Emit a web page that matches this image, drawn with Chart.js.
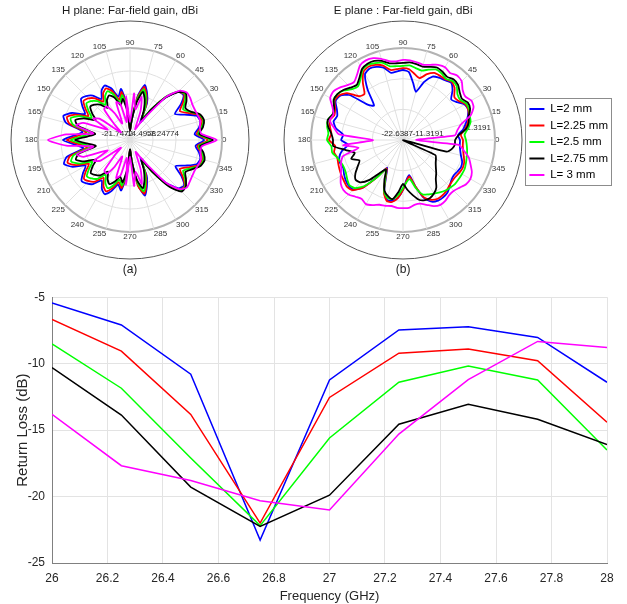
<!DOCTYPE html>
<html>
<head>
<meta charset="utf-8">
<script src="https://cdn.jsdelivr.net/npm/chart.js@4.4.0/dist/chart.umd.min.js"></script>
<style>
  html, body { margin: 0; padding: 0; background: #fff; }
  #wrap { position: relative; width: 627px; height: 604px; overflow: hidden; }
  .box { position: absolute; }
  canvas { display: block; }
</style>
</head>
<body>
<div id="wrap">
  <div class="box" style="left:0;top:0;width:260px;height:284px"><canvas id="hPlane"></canvas></div>
  <div class="box" style="left:262px;top:0;width:365px;height:284px"><canvas id="ePlane"></canvas></div>
  <div class="box" style="left:0;top:283px;width:627px;height:321px"><canvas id="returnLoss"></canvas></div>
</div>
<script>
// series names shared by all three plots
const seriesNames = ["L=2 mm", "L=2.25 mm", "L=2.5 mm", "L=2.75 mm", "L= 3 mm"];
const seriesColors = ["#0000ff", "#ff0000", "#00ff00", "#000000", "#ff00ff"];

// pattern angles (deg), 0..355 every 5
const angles = [0, 5, 10, 15, 20, 25, 30, 35, 40, 45, 50, 55, 60, 65, 70, 75, 80, 85,
  90, 95, 100, 105, 110, 115, 120, 125, 130, 135, 140, 145, 150, 155, 160, 165, 170, 175,
  180, 185, 190, 195, 200, 205, 210, 215, 220, 225, 230, 235, 240, 245, 250, 255, 260, 265,
  270, 275, 280, 285, 290, 295, 300, 305, 310, 315, 320, 325, 330, 335, 340, 345, 350, 355];

// H plane gain (dBi)
const hBlue = [1.6, -1.3, 0.3, 1.2, 0.6, -2.8, -5.4, -2.2, 0.3, -0.3, -4.4, -10.7, -15.4, -9.1, -6.0, -3.8, -7.6, -15.4,
  -18.6, -10.7, -5.4, -7.6, -4.4, -2.8, -3.8, -6.0, -3.5, -2.2, -1.6, -3.5, -5.4, -1.6, 0.6, -0.9, -6.6, -4.4,
  -0.6, -4.6, -6.8, -1.1, 0.4, -1.8, -5.6, -3.7, -1.8, -2.4, -3.6, -6.2, -4.0, -2.9, -4.6, -7.2, -5.6, -11.0,
  -18.4, -15.0, -7.4, -3.6, -6.2, -9.3, -15.2, -10.5, -4.2, -0.2, 0.5, -2.0, -5.2, -2.6, 0.6, 1.2, 0.3, -1.0];
const hRed = [2.8, -0.6, 0.8, 1.8, 1.2, -1.6, -3.6, -1.4, 0.6, -0.3, -4.0, -10.0, -14.6, -9.8, -6.6, -4.4, -8.2, -15.0,
  -18.6, -11.4, -6.4, -8.6, -5.4, -3.8, -4.8, -7.0, -4.6, -3.2, -2.6, -4.6, -6.6, -2.8, -0.6, -2.0, -7.8, -5.6,
  -1.8, -5.8, -8.0, -2.2, -0.8, -3.0, -6.8, -4.8, -2.8, -3.4, -4.6, -7.2, -5.0, -3.9, -5.6, -8.0, -6.4, -11.6,
  -18.6, -14.6, -7.0, -4.2, -6.8, -10.0, -14.6, -9.8, -3.6, 0.4, 0.8, -1.4, -3.6, -1.4, 1.4, 1.8, 1.0, -0.4];
const hGreen = [3.6, -0.2, 1.2, 2.2, 1.6, -0.8, -2.4, -0.6, 0.9, -0.2, -3.6, -9.6, -14.0, -10.4, -7.2, -5.2, -8.8, -14.6,
  -18.2, -12.0, -7.4, -9.4, -6.4, -4.8, -6.0, -8.2, -5.8, -4.4, -3.8, -5.8, -7.8, -4.0, -1.8, -3.2, -9.0, -7.0,
  -3.0, -7.0, -9.2, -3.4, -2.0, -4.2, -8.0, -6.0, -4.0, -4.6, -5.8, -8.4, -6.2, -5.0, -6.6, -8.8, -7.2, -12.2,
  -18.2, -14.2, -8.0, -5.0, -7.4, -10.6, -14.0, -9.4, -3.0, 0.8, 1.0, -0.6, -2.4, -0.6, 1.8, 2.2, 1.4, 0.0];
const hBlack = [4.4, 0.2, 1.6, 2.4, 1.8, -0.6, -1.6, 0.0, 1.2, -0.4, -4.2, -10.0, -14.4, -11.4, -8.2, -6.0, -9.6, -15.2,
  -18.6, -12.8, -8.6, -10.4, -7.6, -6.2, -7.2, -9.4, -7.2, -6.0, -5.4, -7.2, -9.2, -5.6, -3.4, -4.8, -10.6, -8.4,
  -4.4, -8.4, -10.8, -5.0, -3.6, -5.8, -9.4, -7.4, -5.6, -6.2, -7.2, -9.6, -7.6, -6.4, -7.8, -9.8, -8.2, -12.8,
  -18.8, -14.6, -8.8, -6.0, -8.4, -11.4, -14.4, -9.6, -2.6, 1.2, 1.2, -0.2, -1.6, 0.0, 2.0, 2.6, 1.8, 0.4];
const hMagenta = [5.6, 0.8, 0.6, 1.2, 1.0, 0.8, 0.9, 1.4, 1.6, 0.2, -4.0, -12.0, -16.0, -18.0, -12.0, -7.6, -12.0, -7.0,
  -16.0, -7.8, -16.0, -10.0, -9.1, -16.0, -12.0, -8.8, -9.1, -15.0, -18.0, -10.0, -8.4, -14.0, -6.0, -4.2, -10.0, -1.6,
  4.1, -1.6, -10.0, -4.4, -6.2, -14.0, -8.6, -10.4, -18.0, -15.0, -9.2, -8.8, -12.0, -16.0, -9.0, -10.2, -16.0, -7.6,
  -16.4, -7.2, -11.6, -7.4, -12.0, -17.6, -16.0, -12.0, -4.2, 0.2, 1.6, 1.2, 0.9, 0.8, 1.2, 1.4, 0.8, 1.0];

// E plane gain (dBi)
const eBlue = [-1.6, -2.3, -0.1, 1.4, 2.8, 3.9, 3.6, 1.7, 0.6, 3.2, 5.0, 4.3, 3.9, 3.2, 0.2, -4.2, -1.2, 2.5,
  3.2, 2.8, 2.5, 5.0, 6.1, 6.5, 5.4, 0.2, -6.0, -4.2, 3.2, 5.8, 6.1, 4.3, 3.2, 3.9, 2.5, -0.5,
  0.2, -2.3, 0.2, 1.7, 2.1, 1.7, 2.5, 3.2, 3.6, 3.2, 0.2, -6.0, -10.8, -7.9, -2.3, 0.2, 0.2, -1.2,
  -4.2, -7.9, -9.4, -4.9, 0.2, 2.5, 3.2, 3.2, 2.8, 1.7, 0.6, 0.2, 0.6, 1.0, 0.6, -0.5, -1.2, -1.6];
const eRed = [-0.5, -1.2, 0.6, 2.1, 3.2, 3.9, 3.9, 2.5, 2.1, 4.3, 5.4, 4.7, 4.7, 4.7, 3.2, 1.0, 2.1, 3.6,
  3.9, 3.6, 3.6, 5.8, 6.9, 7.3, 6.5, 3.2, -0.5, 0.2, 4.3, 6.1, 6.5, 5.0, 4.3, 5.4, 4.7, 3.9,
  4.7, 2.5, 3.2, 2.5, 2.8, 3.2, 3.6, 3.9, 4.3, 3.6, 0.2, -5.7, -10.5, -7.5, -2.0, 0.6, 0.6, -1.2,
  -4.2, -7.5, -9.0, -4.9, -0.1, 1.7, 2.5, 2.5, 2.1, 1.4, 1.0, 1.0, 1.4, 1.7, 1.4, 0.6, -0.1, -0.5];
const eGreen = [0.6, 0.2, 1.7, 3.2, 3.6, 4.3, 4.3, 3.2, 3.6, 5.4, 5.8, 5.0, 5.8, 6.1, 5.0, 3.9, 4.3, 5.0,
  4.7, 4.7, 5.0, 6.9, 7.6, 8.0, 7.3, 4.7, 3.2, 3.9, 5.8, 6.9, 6.9, 5.4, 5.0, 6.1, 5.8, 5.0,
  5.4, 3.9, 3.9, 2.5, 1.7, 1.4, 1.7, 2.5, 3.2, 2.5, -0.5, -5.7, -10.1, -7.1, -2.3, -0.5, -0.5, -2.3,
  -4.9, -7.1, -7.9, -4.2, -1.2, -0.5, 0.2, 1.0, 1.7, 2.1, 2.5, 2.5, 2.5, 2.5, 2.1, 1.7, 1.4, 1.0];
const eBlack = [-3.4, -2.0, 1.0, 2.5, 3.2, 4.7, 5.0, 3.9, 4.7, 6.1, 6.5, 5.8, 6.5, 6.9, 6.1, 5.4, 5.8, 6.1,
  5.8, 5.8, 6.1, 7.6, 8.4, 8.4, 7.6, 5.4, 3.9, 4.7, 6.1, 6.9, 6.9, 5.4, 5.0, 6.1, 5.4, 3.9,
  3.2, 3.2, -1.2, -4.2, -2.3, -4.9, -3.4, -1.2, 0.2, -0.5, -3.4, -7.9, -10.1, -6.4, -2.7, -1.2, -0.5, -3.4,
  -6.4, -4.2, -2.0, 0.2, 1.0, 1.0, 0.2, -1.2, -3.8, -5.3, -6.8, -7.9, -8.6, -9.4, -22.6, -6.0, -4.2, -3.4];
const eMagenta = [-17.8, -3.4, -2.3, -0.5, 3.9, 6.1, 6.5, 5.4, 6.1, 8.0, 8.4, 7.6, 8.4, 8.0, 6.9, 6.1, 6.5, 6.9,
  6.9, 6.5, 6.9, 8.4, 9.5, 9.8, 9.1, 6.9, 5.4, 6.1, 7.6, 8.7, 8.4, 6.1, 4.7, 5.4, 3.2, 1.0,
  -11.6, -0.5, -6.0, 0.2, 1.7, 2.5, 3.9, 5.4, 6.1, 5.8, 4.7, 3.9, 4.7, 3.9, 2.8, 2.5, 2.1, 2.5,
  2.5, 2.5, 1.7, 1.7, 2.8, 4.3, 5.0, 4.7, 3.9, 3.9, 4.7, 5.8, 6.1, 5.4, 3.9, 2.5, 0.2, -2.0];

// radial ticks of the two polar plots
const hRTicks = [-21.7472, -14.4958, -7.24774, 0.0001, 7.2491];
const hRTickLabels = ["-21.7472", "-14.4958", "-7.24774", "", ""];
const eRTicks = [-22.6387, -11.3191, 0.0005, 11.3196];
const eRTickLabels = ["-22.6387", "-11.3191", "", "11.3191"];

// return loss vs frequency
const freqs = [26, 26.25, 26.5, 26.75, 27, 27.25, 27.5, 27.75, 28];
const rlBlue = [-5.44, -7.09, -10.79, -23.28, -11.23, -7.46, -7.22, -8.03, -11.40];
const rlRed = [-6.67, -9.06, -13.82, -22.0, -12.54, -9.21, -8.89, -9.78, -14.41];
const rlGreen = [-8.52, -11.85, -17.1, -22.19, -15.59, -11.40, -10.17, -11.23, -16.5];
const rlBlack = [-10.3, -13.87, -19.29, -22.24, -19.9, -14.56, -13.05, -14.19, -16.08];
const rlMagenta = [-13.82, -17.68, -18.79, -20.32, -21.01, -15.3, -11.2, -8.33, -8.79];
const freqTicks = [26, 26.2, 26.4, 26.6, 26.8, 27, 27.2, 27.4, 27.6, 27.8, 28];
const rlTicks = [-25, -20, -15, -10, -5];

const FONT = '"Liberation Sans", Arial, sans-serif';
Chart.defaults.font.family = FONT;
Chart.defaults.color = "#262626";

// radar goes clockwise from the top, polar plot goes ccw from the right
const order = angles.map((_, j) => (18 - j + 72) % 72);

// radial tick labels along the 0 deg line (under the curves) + outer frame circle
const radialLabels = {
    id: "radialLabels",
    beforeDatasetsDraw(chart, args, opts) {
        if (!opts.values) return;
        const s = chart.scales.r;
        const ctx = chart.ctx;
        ctx.save();
        ctx.font = "8px " + FONT;
        ctx.fillStyle = "#262626";
        ctx.textAlign = "right";
        ctx.textBaseline = "middle";
        opts.values.forEach((v, i) => {
            const text = opts.texts[i];
            if (!text) return;
            const d = s.getDistanceFromCenterForValue(v);
            const last = i === opts.values.length - 1;
            ctx.fillText(text, s.xCenter + d + (last ? -4 : opts.offset), s.yCenter + (last ? -12 : -6));
        });
        ctx.restore();
    },
    afterDraw(chart) {
        const s = chart.scales.r;
        if (!s) return;
        const ctx = chart.ctx;
        ctx.save();
        ctx.beginPath();
        ctx.arc(s.xCenter, s.yCenter, s.drawingArea + 27, 0, Math.PI * 2);
        ctx.strokeStyle = "#555555";
        ctx.lineWidth = 1;
        ctx.stroke();
        ctx.restore();
    }
};

// frame round the legend
const legendFrame = {
    id: "legendFrame",
    afterDraw(chart) {
        const lg = chart.legend;
        if (!lg || !lg.options.display || !lg.legendHitBoxes.length) return;
        const boxes = lg.legendHitBoxes;
        const left = Math.min(...boxes.map(b => b.left)) - 4;
        const top = Math.min(...boxes.map(b => b.top)) - 5;
        const right = Math.max(...boxes.map(b => b.left + b.width)) + 3;
        const bottom = Math.max(...boxes.map(b => b.top + b.height)) + 4;
        const ctx = chart.ctx;
        ctx.save();
        ctx.strokeStyle = "#8c8c8c";
        ctx.lineWidth = 1;
        ctx.strokeRect(Math.round(left) + 0.5, Math.round(top) + 0.5, Math.round(right - left), Math.round(bottom - top));
        ctx.restore();
    }
};

const makePolar = (id, series, rTicks, rTickLabels, titleText, subText, showLegend, pad, labelOffset) => {
    const rMin = rTicks[0];
    const rMax = rTicks[rTicks.length - 1];
    return new Chart(document.getElementById(id), {
        type: "radar",
        data: {
            labels: order.map(i => angles[i]),
            datasets: series.map((s, k) => ({
                label: seriesNames[k],
                data: order.map(i => s[i]),
                borderColor: seriesColors[k],
                backgroundColor: seriesColors[k],
                borderWidth: 1.8,
                pointRadius: 0,
                fill: false,
                tension: 0.2,
                order: series.length - k
            }))
        },
        options: {
            responsive: true,
            maintainAspectRatio: false,
            animation: false,
            layout: { padding: pad },
            plugins: {
                title: {
                    display: true, text: titleText, fullSize: false, color: "#1a1a1a",
                    font: { size: 11.5, weight: "normal" }, padding: { top: 4, bottom: 20.6 }
                },
                subtitle: {
                    display: true, text: subText, position: "bottom", fullSize: false, color: "#1a1a1a",
                    font: { size: 12, weight: "normal" }, padding: { top: 21.2, bottom: 6.8 }
                },
                legend: {
                    display: showLegend,
                    position: "right",
                    labels: {
                        usePointStyle: true, pointStyle: "line", pointStyleWidth: 15,
                        color: "#000", font: { size: 11.5 }, padding: 5,
                        sort: (a, b) => a.datasetIndex - b.datasetIndex
                    }
                },
                tooltip: { enabled: false },
                radialLabels: { values: rTicks, texts: rTickLabels, offset: labelOffset }
            },
            scales: {
                r: {
                    min: rMin,
                    max: rMax,
                    afterBuildTicks: s => { s.ticks = rTicks.map(v => ({ value: v })); },
                    ticks: { display: false },
                    grid: {
                        circular: true,
                        color: c => (c.tick && Math.abs(c.tick.value - rMax) < 1e-6 ? "#b3b3b3" : "#e0e0e0"),
                        lineWidth: c => (c.tick && Math.abs(c.tick.value - rMax) < 1e-6 ? 2 : 1)
                    },
                    angleLines: {
                        color: c => (c.index % 3 === 0 ? "#e0e0e0" : "rgba(0,0,0,0)"),
                        lineWidth: 1
                    },
                    pointLabels: {
                        callback: v => (v % 15 === 0 ? String(v) : ""),
                        font: { size: 8 },
                        color: "#333",
                        padding: 0
                    }
                }
            }
        },
        plugins: [radialLabels, legendFrame]
    });
};

makePolar("hPlane", [hBlue, hRed, hGreen, hBlack, hMagenta], hRTicks, hRTickLabels,
    "H plane: Far-field gain, dBi", "(a)", false, { left: 0, right: 0, top: 0, bottom: 0 }, 3);
makePolar("ePlane", [eBlue, eRed, eGreen, eBlack, eMagenta], eRTicks, eRTickLabels,
    "E plane : Far-field gain, dBi", "(b)", true, { left: 20, right: 9, top: 0, bottom: 0 }, 10);

// Return loss chart
const rlSeries = [rlBlue, rlRed, rlGreen, rlBlack, rlMagenta];
new Chart(document.getElementById("returnLoss"), {
    type: "line",
    data: {
        datasets: rlSeries.map((s, k) => ({
            label: seriesNames[k],
            data: freqs.map((f, i) => ({ x: f, y: s[i] })),
            borderColor: seriesColors[k],
            borderWidth: 1.5,
            pointRadius: 0,
            tension: 0,
            fill: false,
            order: rlSeries.length - k
        }))
    },
    options: {
        responsive: true,
        maintainAspectRatio: false,
        animation: false,
        layout: { padding: { top: 12, right: 20, left: 14, bottom: 0 } },
        plugins: { legend: { display: false }, tooltip: { enabled: false } },
        scales: {
            x: {
                type: "linear",
                min: 26,
                max: 28,
                afterBuildTicks: s => { s.ticks = freqTicks.map(v => ({ value: v })); },
                afterFit: s => { s.height = 41; },
                ticks: { font: { size: 12 }, color: "#262626", padding: 8, maxRotation: 0,
                    callback: v => String(v) },
                grid: { color: "#e3e3e3", drawTicks: false },
                border: { color: "#808080" },
                title: { display: true, text: "Frequency (GHz)", font: { size: 13 }, color: "#262626", padding: 0 }
            },
            y: {
                min: -25,
                max: -5,
                afterBuildTicks: s => { s.ticks = rlTicks.map(v => ({ value: v })); },
                afterFit: s => { s.width = 38; },
                ticks: { font: { size: 12 }, color: "#262626", padding: 7 },
                grid: { color: "#e3e3e3", drawTicks: false },
                border: { color: "#808080" },
                title: { display: true, text: "Return Loss (dB)", font: { size: 15 }, color: "#262626", padding: 0 }
            }
        }
    }
});
</script>
</body>
</html>
